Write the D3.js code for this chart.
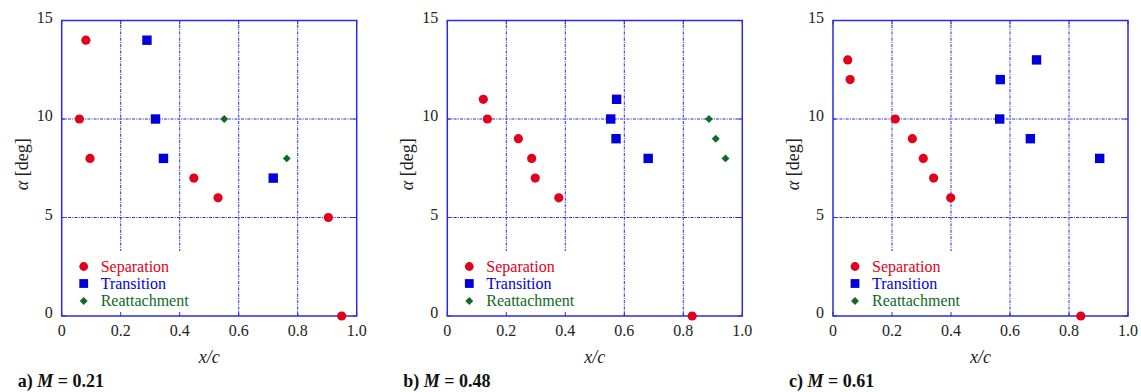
<!DOCTYPE html>
<html>
<head>
<meta charset="utf-8">
<script src="https://cdn.jsdelivr.net/npm/d3@7"></script>
<style>
  html, body { margin: 0; padding: 0; background: #fff; }
  svg { display: block; }
</style>
</head>
<body>
<svg id="chart" width="1141" height="392"></svg>
<script>
// Onset positions along the chord for each Mach number
const panelCaptions = ["a)", "b)", "c)"];
const machNumbers = ["0.21", "0.48", "0.61"];

const sepA = [[0.06, 10], [0.082, 14], [0.096, 8], [0.448, 7], [0.530, 6], [0.904, 5], [0.949, 0]];
const traA = [[0.289, 14], [0.318, 10], [0.345, 8], [0.717, 7]];
const reaA = [[0.551, 10], [0.763, 8]];

const sepB = [[0.122, 11], [0.136, 10], [0.241, 9], [0.286, 8], [0.298, 7], [0.378, 6], [0.830, 0]];
const traB = [[0.574, 11], [0.554, 10], [0.572, 9], [0.681, 8]];
const reaB = [[0.887, 10], [0.910, 9], [0.943, 8]];

const sepC = [[0.050, 13], [0.058, 12], [0.211, 10], [0.269, 9], [0.306, 8], [0.341, 7], [0.399, 6], [0.840, 0]];
const traC = [[0.567, 12], [0.690, 13], [0.565, 10], [0.669, 9], [0.904, 8]];
const reaC = [];

const xTicks = [0, 0.2, 0.4, 0.6, 0.8, 1.0];
const xTickLabels = ["0", "0.2", "0.4", "0.6", "0.8", "1.0"];
const yTicks = [0, 5, 10, 15];
const legendLabels = ["Separation", "Transition", "Reattachment"];

const panels = [
  { sep: sepA, tra: traA, rea: reaA, left: 61.7 },
  { sep: sepB, tra: traB, rea: reaB, left: 447.3 },
  { sep: sepC, tra: traC, rea: reaC, left: 833 }
];

const RED = "#e3001b", BLUE = "#0000dc", GREEN = "#0f6a25", FRAME = "#2a2ae0", GRID = "#2424ee";
const W = 295, TOP = 20.5, H = 295.5;
const SERIF = "'Liberation Serif', 'Times New Roman', Times, 'DejaVu Serif', serif";

const svg = d3.select("#chart").attr("font-family", SERIF);

panels.forEach((p, i) => {
  const x = d3.scaleLinear().domain([0, 1]).range([p.left, p.left + W]);
  const y = d3.scaleLinear().domain([0, 15]).range([TOP + H, TOP]);
  const g = svg.append("g");

  // grid
  const dash = "3,1.2,1,1.2";
  g.selectAll(".vg").data(xTicks.slice(1, -1)).join("line")
    .attr("x1", d => x(d)).attr("x2", d => x(d))
    .attr("y1", y(0)).attr("y2", y(15))
    .attr("stroke", GRID).attr("stroke-width", 1).attr("stroke-dasharray", dash);
  g.selectAll(".hg").data(yTicks.slice(1, -1)).join("line")
    .attr("x1", x(0)).attr("x2", x(1))
    .attr("y1", d => y(d)).attr("y2", d => y(d))
    .attr("stroke", GRID).attr("stroke-width", 1).attr("stroke-dasharray", dash);

  // legend box (opaque, hides the grid beneath)
  const lx = x(0) + 1, ly = y(3.3);
  g.append("rect").attr("x", lx).attr("y", ly)
    .attr("width", x(0.42) - lx).attr("height", y(0) - ly - 1)
    .attr("fill", "#fff");

  // inner ticks
  xTicks.forEach(t => {
    g.append("line").attr("x1", x(t)).attr("x2", x(t)).attr("y1", y(0)).attr("y2", y(0) - 4).attr("stroke", FRAME);
    g.append("line").attr("x1", x(t)).attr("x2", x(t)).attr("y1", y(15)).attr("y2", y(15) + 4).attr("stroke", FRAME);
  });
  yTicks.forEach(t => {
    g.append("line").attr("x1", x(0)).attr("x2", x(0) + 4).attr("y1", y(t)).attr("y2", y(t)).attr("stroke", FRAME);
    g.append("line").attr("x1", x(1)).attr("x2", x(1) - 4).attr("y1", y(t)).attr("y2", y(t)).attr("stroke", FRAME);
  });

  // frame
  g.append("rect").attr("x", x(0)).attr("y", y(15))
    .attr("width", x(1) - x(0)).attr("height", y(0) - y(15))
    .attr("fill", "none").attr("stroke", FRAME).attr("stroke-width", 1.5);

  // tick labels
  g.selectAll(".xl").data(xTicks).join("text")
    .attr("x", d => x(d)).attr("y", y(0) + 20)
    .attr("text-anchor", "middle").attr("font-size", 16).attr("fill", "#222")
    .text((d, k) => xTickLabels[k]);
  g.selectAll(".yl").data(yTicks).join("text")
    .attr("x", x(0) - 9).attr("y", d => y(d) + 2)
    .attr("text-anchor", "end").attr("font-size", 16).attr("fill", "#222")
    .text(d => d);

  // axis titles
  g.append("text").attr("x", x(0.5)).attr("y", y(0) + 47)
    .attr("text-anchor", "middle").attr("font-size", 18).attr("font-style", "italic")
    .attr("fill", "#222").text("x/c");
  const yt = g.append("text")
    .attr("transform", `translate(${x(0) - 34},${y(7.5) - 4}) rotate(-90)`)
    .attr("text-anchor", "middle").attr("font-size", 18).attr("fill", "#222");
  yt.append("tspan").attr("font-style", "italic").text("α");
  yt.append("tspan").text(" [deg]");

  // caption
  const cap = g.append("text").attr("x", x(0) - 44).attr("y", 387)
    .attr("font-size", 18).attr("font-weight", "bold").attr("fill", "#111");
  cap.append("tspan").text(panelCaptions[i] + " ");
  cap.append("tspan").attr("font-style", "italic").text("M");
  cap.append("tspan").text(" = " + machNumbers[i]);

  // markers
  const diamond = d3.symbol().type(d3.symbolDiamond2).size(40);
  g.selectAll(".rea").data(p.rea).join("path")
    .attr("d", diamond)
    .attr("transform", d => `translate(${x(d[0])},${y(d[1])})`)
    .attr("fill", GREEN);
  g.selectAll(".tra").data(p.tra).join("rect")
    .attr("x", d => x(d[0]) - 4.7).attr("y", d => y(d[1]) - 4.7)
    .attr("width", 9.4).attr("height", 9.4).attr("fill", BLUE);
  g.selectAll(".sep").data(p.sep).join("circle")
    .attr("cx", d => x(d[0])).attr("cy", d => y(d[1])).attr("r", 4.6)
    .attr("fill", RED);

  // legend
  const rowY = [y(0) - 49.5, y(0) - 32.5, y(0) - 15];
  const mx = x(0) + 22;
  g.append("circle").attr("cx", mx).attr("cy", rowY[0]).attr("r", 4.4).attr("fill", RED);
  g.append("rect").attr("x", mx - 4.4).attr("y", rowY[1] - 4.4).attr("width", 8.8).attr("height", 8.8).attr("fill", BLUE);
  g.append("path").attr("d", diamond).attr("transform", `translate(${mx},${rowY[2]})`).attr("fill", GREEN);
  const lcol = [RED, BLUE, GREEN];
  legendLabels.forEach((t, k) => {
    g.append("text").attr("x", mx + 17).attr("y", rowY[k] + 5)
      .attr("font-size", 16).attr("fill", lcol[k]).text(t);
  });
});
</script>
</body>
</html>
